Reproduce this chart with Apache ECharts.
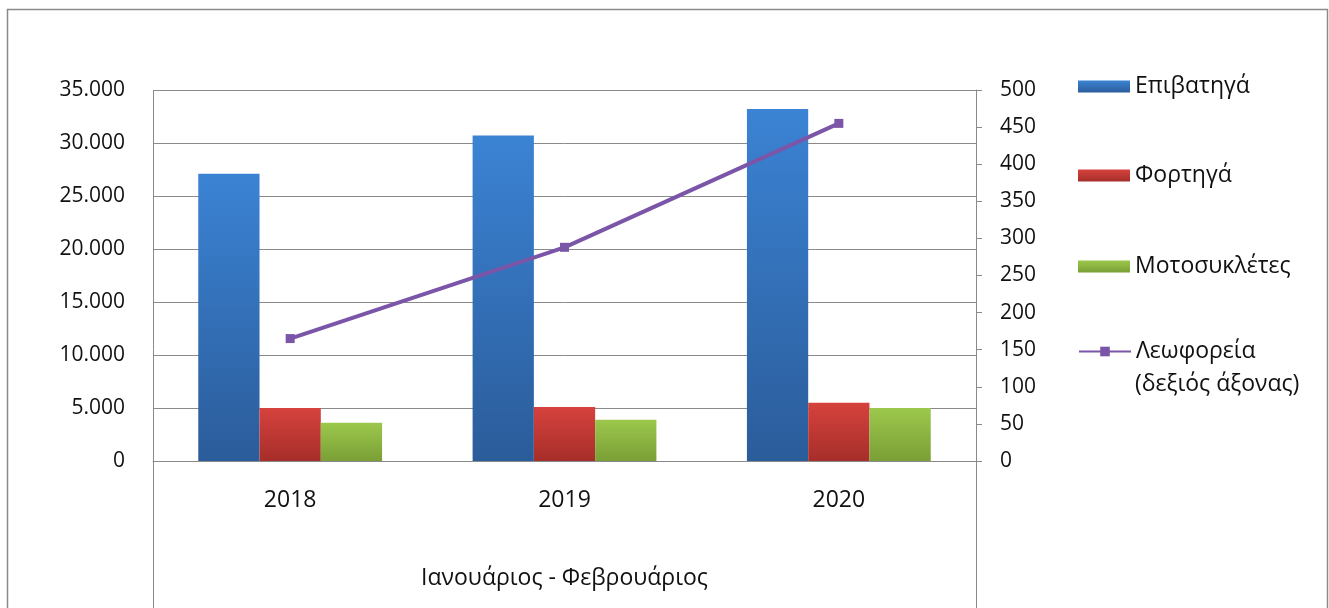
<!DOCTYPE html>
<html>
<head>
<meta charset="utf-8">
<script src="https://cdn.jsdelivr.net/npm/echarts@6/dist/echarts.min.js"></script>
<style>
html,body{margin:0;padding:0;background:#fff;}
#chart{width:1329px;height:608px;}
</style>
</head>
<body>
<div id="chart"></div>
<script>
const categories = ['2018', '2019', '2020'];
const epivatiga = [27100, 30700, 33200];
const fortiga = [5000, 5100, 5500];
const motosikletes = [3600, 3900, 5000];
const leoforeia = [165, 288, 455];
const seriesNames = ['Επιβατηγά', 'Φορτηγά', 'Μοτοσυκλέτες', 'Λεωφορεία (δεξιός άξονας)'];
const xAxisTitle = 'Ιανουάριος - Φεβρουάριος';

const FONT = '"Open Sans", sans-serif';
const GRAY = '#8a8a8a';
const TXT = '#111';
const fmt = v => String(v).replace(/\B(?=(\d{3})+(?!\d))/g, '.');
const grad = (a, b) => ({type:'linear', x:0, y:0, x2:0, y2:1, colorStops:[{offset:0, color:a},{offset:1, color:b}]});

const chart = echarts.init(document.getElementById('chart'), null, {renderer:'canvas'});
const legendBase = {
  orient:'vertical', left:1078, padding:0, itemWidth:52, itemHeight:12,
  textStyle:{fontFamily:FONT, fontSize:23, color:TXT}, selectedMode:false
};
chart.setOption({
  animation:false,
  backgroundColor:'#fff',
  grid:{left:153, right:353, top:90, bottom:147, containLabel:false},
  legend:[
    Object.assign({}, legendBase, {top:75, data:[{name:seriesNames[0], icon:'rect'}]}),
    Object.assign({}, legendBase, {top:164, data:[{name:seriesNames[1], icon:'rect'}]}),
    Object.assign({}, legendBase, {top:255, data:[{name:seriesNames[2], icon:'rect'}]}),
    Object.assign({}, legendBase, {top:340, data:[seriesNames[3]], formatter: () => 'Λεωφορεία'})
  ],
  xAxis:{
    type:'category', data:categories,
    axisLine:{show:true, lineStyle:{color:GRAY, width:1}},
    axisTick:{show:false},
    axisLabel:{fontFamily:FONT, fontSize:23, color:TXT, margin:28},
    name:xAxisTitle, nameLocation:'middle', nameGap:106,
    nameTextStyle:{fontFamily:FONT, fontSize:23, color:TXT}
  },
  yAxis:[
    {
      type:'value', min:0, max:35000, interval:5000, position:'left',
      axisLine:{show:false}, axisTick:{show:false},
      splitLine:{show:true, lineStyle:{color:GRAY, width:1}},
      axisLabel:{fontFamily:FONT, fontSize:21, color:TXT, margin:28, formatter:fmt}
    },
    {
      type:'value', min:0, max:500, interval:50, position:'right',
      axisLine:{show:true, lineStyle:{color:GRAY, width:1}},
      axisTick:{show:true, inside:false, length:6, lineStyle:{color:GRAY}},
      splitLine:{show:false},
      axisLabel:{fontFamily:FONT, fontSize:21, color:TXT, margin:24}
    }
  ],
  series:[
    {name:seriesNames[0], type:'bar', data:epivatiga, barGap:'0%', barCategoryGap:'33%',
     itemStyle:{color:grad('#3b83d4', '#2b5c9a')}},
    {name:seriesNames[1], type:'bar', data:fortiga, barGap:'0%', barCategoryGap:'33%',
     itemStyle:{color:grad('#d6423d', '#a62e2a')}},
    {name:seriesNames[2], type:'bar', data:motosikletes, barGap:'0%', barCategoryGap:'33%',
     itemStyle:{color:grad('#9cc84c', '#7a9f36')}},
    {name:seriesNames[3], type:'line', yAxisIndex:1, data:leoforeia,
     symbol:'rect', symbolSize:9, z:5,
     lineStyle:{color:'#7b56a8', width:4}, itemStyle:{color:'#7b56a8'}}
  ],
  graphic:[
    {type:'rect', silent:true, shape:{x:7.5, y:9.5, width:1320, height:640},
     style:{fill:null, stroke:'#8a8a8a', lineWidth:1.5}},
    {type:'polyline', silent:true, shape:{points:[[153.5,640],[153.5,90.5],[976.5,90.5],[976.5,640]]},
     style:{fill:null, stroke:GRAY, lineWidth:1}},
    {type:'text', silent:true, left:1135, top:373,
     style:{text:'(δεξιός άξονας)', font:'23px "Open Sans", sans-serif', fill:TXT}}
  ]
});
</script>
</body>
</html>
